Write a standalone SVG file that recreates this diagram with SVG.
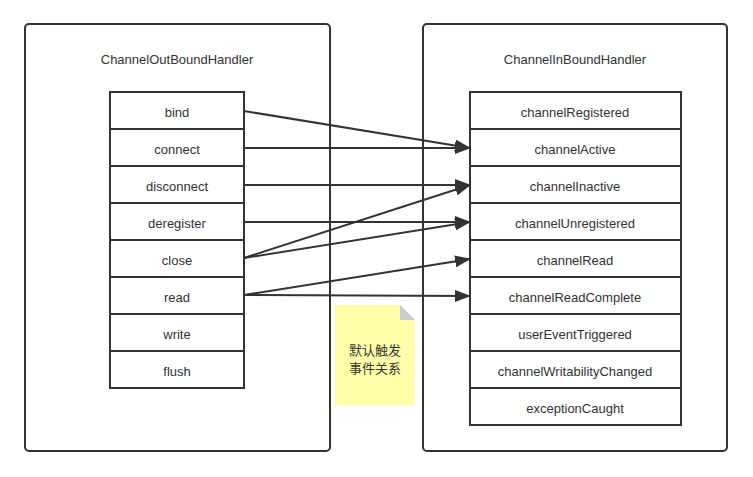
<svg xmlns="http://www.w3.org/2000/svg" width="753" height="477" viewBox="0 0 753 477">
<style>
.frame{fill:#fff;stroke:#333;stroke-width:2}
.cell{fill:#fff;stroke:#333;stroke-width:2}
.t{font-family:"Liberation Sans",Arial,sans-serif;font-size:13px;fill:#333;text-anchor:middle;dominant-baseline:central}
.c{font-family:"Noto Sans CJK SC",sans-serif;font-size:13px;fill:#333;text-anchor:middle;dominant-baseline:central}
.conn line{stroke:#333;stroke-width:2;marker-end:url(#ah)}
</style>
<defs>
<marker id="ah" viewBox="0 0 16 12" refX="15" refY="6" markerWidth="16" markerHeight="12" markerUnits="userSpaceOnUse" orient="auto">
<path d="M0,0 L16,6 L0,12 Z" fill="#333"/>
</marker>
</defs>
<rect width="753" height="477" fill="#fff"/>
<g id="outbound">
<rect class="frame" x="25" y="24" width="305" height="427" rx="4"/>
<text class="t" x="177" y="59">ChannelOutBoundHandler</text>
<rect class="cell" x="110" y="92" width="134" height="37"/><text class="t" x="177" y="112">bind</text>
<rect class="cell" x="110" y="129" width="134" height="37"/><text class="t" x="177" y="149">connect</text>
<rect class="cell" x="110" y="166" width="134" height="37"/><text class="t" x="177" y="186">disconnect</text>
<rect class="cell" x="110" y="203" width="134" height="37"/><text class="t" x="177" y="223">deregister</text>
<rect class="cell" x="110" y="240" width="134" height="37"/><text class="t" x="177" y="260">close</text>
<rect class="cell" x="110" y="277" width="134" height="37"/><text class="t" x="177" y="297">read</text>
<rect class="cell" x="110" y="314" width="134" height="37"/><text class="t" x="177" y="334">write</text>
<rect class="cell" x="110" y="351" width="134" height="37"/><text class="t" x="177" y="371">flush</text>
</g>
<g id="inbound">
<rect class="frame" x="423" y="24" width="304" height="427" rx="4"/>
<text class="t" x="575" y="59">ChannelInBoundHandler</text>
<rect class="cell" x="470" y="92" width="211" height="37"/><text class="t" x="575" y="112">channelRegistered</text>
<rect class="cell" x="470" y="129" width="211" height="37"/><text class="t" x="575" y="149">channelActive</text>
<rect class="cell" x="470" y="166" width="211" height="37"/><text class="t" x="575" y="186">channelInactive</text>
<rect class="cell" x="470" y="203" width="211" height="37"/><text class="t" x="575" y="223">channelUnregistered</text>
<rect class="cell" x="470" y="240" width="211" height="37"/><text class="t" x="575" y="260">channelRead</text>
<rect class="cell" x="470" y="277" width="211" height="37"/><text class="t" x="575" y="297">channelReadComplete</text>
<rect class="cell" x="470" y="314" width="211" height="37"/><text class="t" x="575" y="334">userEventTriggered</text>
<rect class="cell" x="470" y="351" width="211" height="37"/><text class="t" x="575" y="371">channelWritabilityChanged</text>
<rect class="cell" x="470" y="388" width="211" height="37"/><text class="t" x="575" y="408">exceptionCaught</text>
</g>
<g id="note">
<path d="M335,305 H400 L415,320 V405 H335 Z" fill="#ffffaa"/>
<path d="M400,305 L415,320 H400 Z" fill="#cccccc"/>
<text class="c" x="375" y="349">默认触发</text>
<text class="c" x="375" y="367">事件关系</text>
</g>
<g class="conn" id="connectors">
<line x1="244" y1="111" x2="470" y2="148"/>
<line x1="244" y1="148" x2="470" y2="148"/>
<line x1="244" y1="185" x2="470" y2="185"/>
<line x1="244" y1="222" x2="470" y2="222"/>
<line x1="244" y1="258" x2="470" y2="185"/>
<line x1="244" y1="258" x2="470" y2="222"/>
<line x1="244" y1="295" x2="470" y2="259"/>
<line x1="244" y1="295" x2="470" y2="296"/>
</g>
</svg>
